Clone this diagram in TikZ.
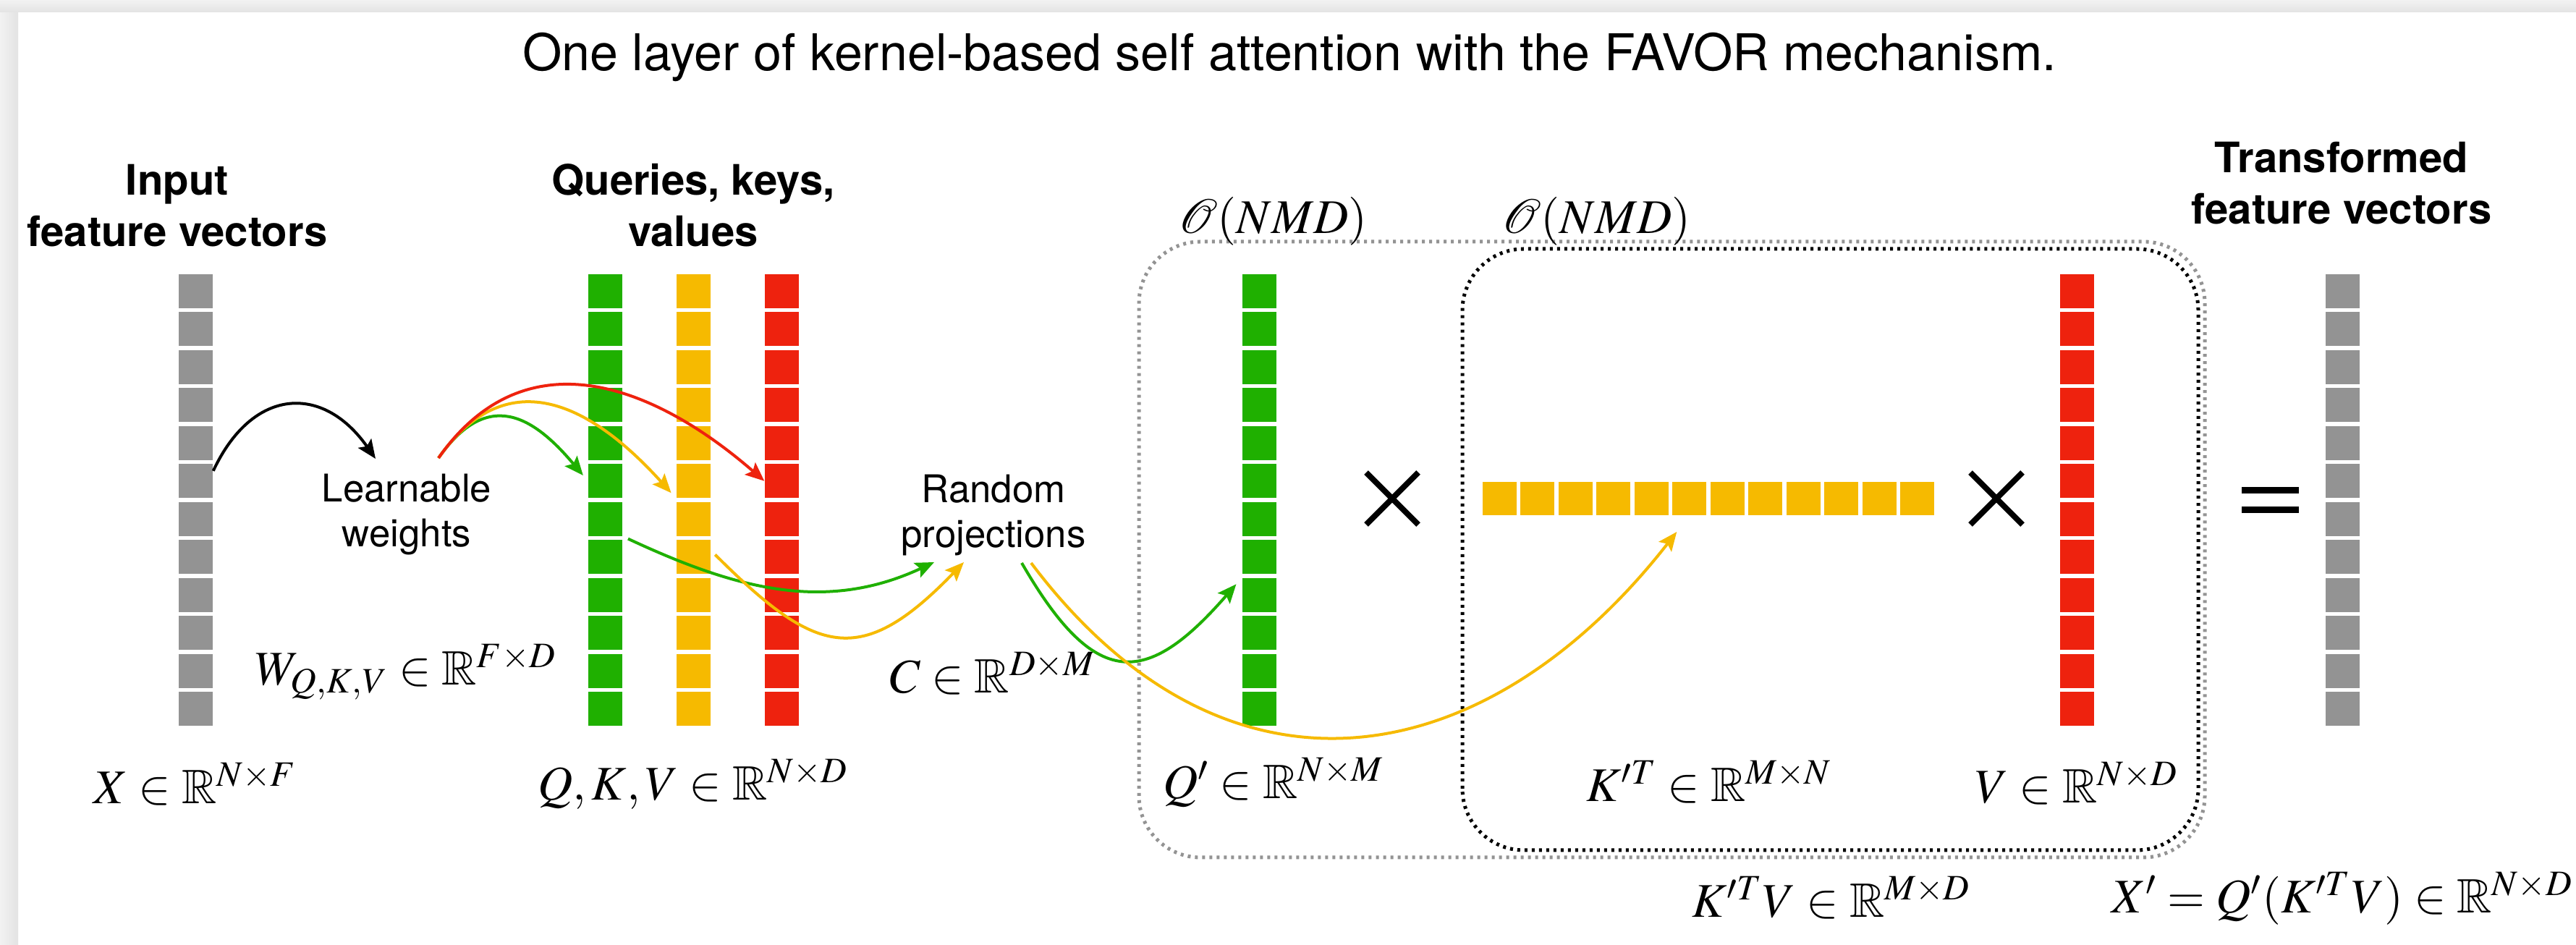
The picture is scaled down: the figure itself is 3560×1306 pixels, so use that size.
\documentclass[tikz,border=0pt]{standalone}
\usepackage{mathptmx}
\usepackage{amssymb}
\usepackage[no-math]{fontspec}
\setmainfont{TeX Gyre Heros}
\usetikzlibrary{arrows.meta}

\definecolor{gris}{RGB}{147,147,147}
\definecolor{vert}{RGB}{31,176,0}
\definecolor{jaune}{RGB}{246,186,0}
\definecolor{rouge}{RGB}{238,34,14}

\tikzset{
  cell/.style={minimum width=0.47cm, minimum height=0.465cm, inner sep=0pt},
  fleche/.style={line width=0.04cm, -{Stealth[length=0.26cm, width=0.22cm, inset=0.05cm]}},
  maths/.style={font=\fontsize{19}{23}\selectfont, anchor=base, inner sep=0pt},
  titre/.style={font=\bfseries\fontsize{16.5}{20.2}\selectfont, align=center, anchor=base, inner sep=0pt},
  texte/.style={font=\fontsize{15}{17.4}\selectfont, align=center, inner sep=0pt},
  pointilles/.style={line width=0.05cm, dash pattern=on 0.04cm off 0.06cm, rounded corners=0.85cm},
  signe/.style={line width=0.08cm}
}

\begin{document}
\begin{tikzpicture}[x=0.01cm, y=0.01cm]
  \useasboundingbox (0,0) rectangle (3560,1306);

  % Fond et ombre de la fenetre
  \fill[white] (0,0) rectangle (3560,1306);
  \shade[left color=gray!10, right color=gray!22] (0,0) rectangle (25,1306);
  \shade[top color=gray!10, bottom color=gray!22] (0,1289) rectangle (3560,1306);

  % Titre
  \node[anchor=base, font=\fontsize{19.9}{24}\selectfont] (entete) at (1782,1208)
    {One layer of kernel-based self attention with the FAVOR mechanism.};

  % Boites de complexite
  \draw[pointilles, gris] (1574,121) rectangle (3047,972);
  \draw[pointilles, black] (2021,131) rectangle (3038,962);
  \node[maths] (cout1) at (1759,983) {$\mathcal{O}(NMD)$};
  \node[maths] (cout2) at (2206,983) {$\mathcal{O}(NMD)$};

  % Vecteurs colonnes
  \foreach \nom/\xc/\coul in {x/270.5/gris, q/836.5/vert, k/958.5/jaune, v/1080.5/rouge,
                              qp/1740.5/vert, vv/2870.5/rouge, xs/3237.5/gris}
    \foreach \i in {1,...,12}
      \node[cell, fill=\coul] (\nom\i) at (\xc, 956.25-52.5*\i) {};

  % Vecteur ligne K'^T
  \foreach \i in {1,...,12}
    \node[cell, fill=jaune] (kt\i) at (2019.5+52.5*\i, 617) {};

  % Signes
  \draw[signe] (1888,653) -- (1960,581) (1888,581) -- (1960,653);
  \draw[signe] (2723,653) -- (2795,581) (2723,581) -- (2795,653);
  \draw[line width=0.09cm] (3098,628.5) -- (3177,628.5) (3098,601.5) -- (3177,601.5);

  % Etiquettes
  \node[titre] (entree) at (245,965) {Input\\feature vectors};
  \node[titre] (qkv) at (958,965) {Queries, keys,\\values};
  \node[titre] (sortie) at (3236,996) {Transformed\\feature vectors};
  \node[texte] (lw) at (562,595) {Learnable\\weights};
  \node[texte] (rp) at (1373,594) {Random\\projections};

  \node[maths] (dimx) at (270,195) {$X \in \mathbb{R}^{N\times F}$};
  \node[maths] (dimw) at (561,359) {$W_{Q,K,V} \in \mathbb{R}^{F\times D}$};
  \node[maths] (dimqkv) at (958,200) {$Q,K,V \in \mathbb{R}^{N\times D}$};
  \node[maths] (dimc) at (1372,348) {$C \in \mathbb{R}^{D\times M}$};
  \node[maths] (dimqp) at (1760,202) {$Q' \in \mathbb{R}^{N\times M}$};
  \node[maths] (dimkt) at (2362,198) {$K^{\prime T} \in \mathbb{R}^{M\times N}$};
  \node[maths] (dimv) at (2870,196) {$V \in \mathbb{R}^{N\times D}$};
  \node[maths] (dimktv) at (2531,38) {$K^{\prime T}V \in \mathbb{R}^{M\times D}$};
  \node[maths] (dimxs) at (3237,44) {$X' = Q'(K^{\prime T}V) \in \mathbb{R}^{N\times D}$};

  % Fleches
  \draw[fleche] (x6.30) to[out=65, in=125, looseness=1.45] ([shift={(-43,77)}]lw.center);
  \draw[fleche, vert, shorten >=0.1cm] ([shift={(44,78)}]lw.center) to[out=55, in=130, looseness=1.45] (q6.west);
  \draw[fleche, jaune, shorten >=0.1cm] ([shift={(44,78)}]lw.center) to[out=55, in=132, looseness=1.3] (k6.south west);
  \draw[fleche, rouge] ([shift={(44,78)}]lw.center) to[out=55, in=139, looseness=1.17] (v6.west);

  \draw[fleche, vert, shorten <=0.08cm] (q7.south east) to[out=-25, in=-155, looseness=1] ([shift={(-82,-65)}]rp.center);
  \draw[fleche, jaune, shorten <=0.08cm] (k8.20) to[out=-45, in=-134, looseness=1.5] ([shift={(-41,-65)}]rp.center);

  \draw[fleche, vert, shorten >=0.12cm] ([shift={(39,-66)}]rp.center) to[out=-60, in=-131, looseness=1.7] (qp9.north west);
  \draw[fleche, jaune, shorten >=0.28cm] ([shift={(52,-66)}]rp.center) to[out=-53, in=-128, looseness=1.27] (kt6.south);
\end{tikzpicture}
\end{document}
